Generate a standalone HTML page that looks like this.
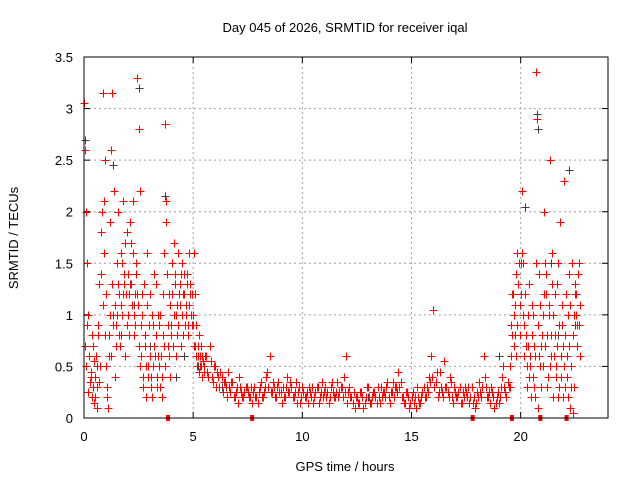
<!DOCTYPE html>
<html><head><meta charset="utf-8"><style>
html,body{margin:0;padding:0;background:#fff;}
svg{display:block;font-family:"Liberation Sans",sans-serif;}
</style></head><body>
<svg id="chart" width="640" height="480">
<text x="345" y="32" font-size="13" text-anchor="middle">Day 045 of 2026, SRMTID for receiver iqal</text>
<text x="345" y="471" font-size="13" text-anchor="middle">GPS time / hours</text>
<text transform="translate(18,238) rotate(-90)" font-size="13" text-anchor="middle">SRMTID / TECUs</text>
<g id="grid"></g><g id="ticks"></g><g id="gray"></g><g id="red"></g>
<rect x="84" y="57" width="524" height="361" fill="none" stroke="#000"/>
</svg>
<script>
const xTicks=[0,5,10,15,20];
const yTicks=[0,0.5,1,1.5,2,2.5,3,3.5];
const yTickLabels=["0","0.5","1","1.5","2","2.5","3","3.5"];
// red series, sampled in segments: [start hour, step hours] + values
const segA=[0,0.05];
const redA=[3.05,2.6,2.0,1.5,1.0,0.6,0.4,0.8,0.3,0.55,
0.2,0.6,0.1,0.9,1.3,0.5,1.8,3.15,2.1,2.5,
1.2,0.3,0.1,0.6,1.9,2.6,3.15,1.0,0.4,0.9,
1.5,2.0,1.2,0.7,1.6,1.0,2.1,1.3,1.7,0.9,
1.4,1.2,1.9,1.3,1.1,1.6,0.8,1.2,1.5,3.3,
2.8,2.2,0.6,1.0,0.3,1.3,0.8,0.2,1.6,0.5,
1.2,0.4,0.2,0.9,1.4,0.6,0.8,0.3,1.0,0.5,
1.0,0.4,1.2,0.7,2.85,2.1,1.4,0.9,0.6,1.1,
0.9,1.5,1.7,1.3,1.0,0.8,1.6,1.2,1.1,1.4,
1.0,0.8,1.2,1.1,1.4,0.9,1.6,1.3,1.0,1.2,
0.9,1.6,0.7,0.9,0.6,0.8,0.5,0.7,0.6,0.55];
const segA2=[0.025,0.05];
const redA2=[0.7,0.5,0.9,0.25,0.6,0.35,0.45,0.2,0.7,0.15,
0.4,0.3,0.8,0.35,0.5,1.4,2.0,1.1,1.6,0.8,
0.5,0.2,0.8,1.0,0.6,1.3,0.9,2.2,1.1,0.7,
1.0,1.3,0.8,1.1,1.5,1.2,1.4,0.6,1.2,1.8,
1.0,0.8,1.3,1.7,2.1,1.0,0.9,1.4,1.2,1.1,
0.7,0.5,0.9,1.2,0.4,0.7,0.5,1.1,0.4,0.9,
0.6,0.3,1.0,0.5,0.7,1.3,0.4,0.6,0.9,0.3,
0.6,0.2,0.8,1.6,0.5,1.9,0.7,1.2,0.4,0.8,
1.2,0.7,1.0,1.4,0.6,1.1,0.9,1.3,0.7,1.5,
1.2,1.4,0.9,1.0,1.3,0.8,1.1,1.2,0.9,1.0,
0.7,1.2,0.6,0.5,0.7,0.45,0.6,0.5,0.4,0.45];
const segC=[5.5,0.1];
const redC=[0.5,0.6,0.4,0.55,0.35,0.5,0.45,0.3,0.4,0.35,
0.3,0.45,0.25,0.35,0.2,0.3,0.4,0.25,0.2,0.3,
0.25,0.2,0.15,0.3,0.2,0.25,0.35,0.2,0.3,0.45,
0.6,0.25,0.3,0.2,0.35,0.25,0.3,0.2,0.4,0.25,
0.3,0.2,0.35,0.25,0.15,0.3,0.2,0.25,0.3,0.2,
0.15,0.25,0.3,0.2,0.35,0.25,0.2,0.15,0.3,0.25,
0.2,0.35,0.25,0.3,0.4,0.6,0.25,0.2,0.15,0.1,
0.2,0.15,0.25,0.1,0.2,0.3,0.15,0.2,0.25,0.15,
0.2,0.3,0.25,0.2,0.35,0.15,0.25,0.2,0.3,0.45,
0.35,0.2,0.15,0.25,0.1,0.2,0.15,0.1,0.2,0.15,
0.25,0.2,0.3,0.4,0.6,1.05,0.35,0.2,0.45,0.25,
0.55,0.3,0.2,0.35,0.15,0.25,0.2,0.3,0.15,0.2,
0.25,0.3,0.2,0.15,0.1,0.25,0.35,0.2,0.6,0.3,
0.2,0.15,0.25,0.1,0.2,0.15,0.3,0.5,0.25,0.35];
const segC2=[5.55,0.1];
const redC2=[0.6,0.45,0.7,0.4,0.5,0.3,0.4,0.45,0.25,0.35,
0.2,0.3,0.35,0.2,0.25,0.15,0.3,0.2,0.25,0.3,
0.2,0.3,0.25,0.2,0.15,0.3,0.2,0.25,0.4,0.3,
0.25,0.35,0.2,0.3,0.25,0.15,0.2,0.3,0.25,0.35,
0.2,0.25,0.15,0.3,0.2,0.25,0.2,0.15,0.25,0.3,
0.2,0.3,0.15,0.25,0.2,0.3,0.25,0.2,0.35,0.2,
0.25,0.2,0.3,0.2,0.25,0.15,0.3,0.2,0.25,0.2,
0.15,0.25,0.2,0.15,0.3,0.2,0.15,0.25,0.2,0.3,
0.15,0.2,0.25,0.3,0.2,0.25,0.35,0.3,0.25,0.3,
0.2,0.15,0.25,0.2,0.15,0.25,0.2,0.3,0.15,0.2,
0.3,0.2,0.25,0.35,0.4,0.3,0.45,0.25,0.3,0.2,
0.3,0.25,0.4,0.2,0.3,0.2,0.25,0.15,0.25,0.3,
0.2,0.15,0.3,0.2,0.15,0.2,0.25,0.3,0.4,0.2,
0.25,0.3,0.2,0.15,0.25,0.2,0.4,0.3,0.2,0.3];
const segD=[19.5,0.05];
const redD=[0.3,0.6,0.8,1.2,1.0,0.8,1.4,1.6,1.3,1.1,
1.5,2.2,1.5,0.9,1.2,0.7,0.5,1.0,0.4,0.6,
0.8,1.0,0.3,0.6,3.35,2.9,0.1,1.4,0.5,0.7,
1.0,2.0,1.5,1.2,0.8,0.4,1.1,2.5,0.6,1.6,
1.0,0.8,0.5,1.3,0.2,0.9,1.9,0.4,1.1,0.7,
2.3,0.3,0.6,1.0,1.4,0.1,0.3,1.5,0.05,1.0,
1.3,1.2,0.9,1.5,0.6];
const segD2=[19.525,0.05];
const redD2=[0.5,0.9,1.2,0.7,1.1,0.6,0.9,1.3,1.5,0.8,
1.2,1.6,1.0,0.6,0.8,0.3,0.7,1.3,0.5,0.2,
1.1,0.4,0.7,0.2,1.5,0.9,0.6,1.1,0.3,0.8,
0.5,1.2,0.7,1.4,0.3,1.0,0.5,0.8,1.3,0.2,
0.6,1.2,0.4,0.7,1.5,0.3,0.6,0.9,0.2,0.5,
0.8,1.2,0.4,0.2,0.7,1.1,0.5,0.8,0.3,1.2,
1.0,0.7,1.4,0.9,1.1];
const grayH=[0.05,0.6,1.35,1.7,2.3,2.5,3.0,3.7,4.2,4.6,5.2,6.3,9.0,13.0,19.0,20.2,20.75,20.8,21.4,21.7,22.2,22.5];
const grayV=[2.7,0.5,2.45,0.8,1.1,3.2,0.7,2.15,0.4,0.6,0.5,0.3,0.25,0.2,0.6,2.05,2.95,2.8,1.5,0.8,2.4,0.9];
const flagH=[3.85,7.7,17.8,19.6,20.9,22.1];

const svg=document.getElementById('chart');
const NS='http://www.w3.org/2000/svg';
const X0=84,X1=608,Y0=418,Y1=57,XMAX=24,YMAX=3.5;
const sx=h=>X0+h/XMAX*(X1-X0);
const sy=v=>Y0-v/YMAX*(Y0-Y1);
function mk(tag,attrs,parent){const e=document.createElementNS(NS,tag);for(const k in attrs)e.setAttribute(k,attrs[k]);parent.appendChild(e);return e;}
const grid=document.getElementById('grid'),ticks=document.getElementById('ticks');
xTicks.forEach(t=>{const x=sx(t);
 if(t>0){const g=mk('line',{x1:x,x2:x,y1:Y1,y2:Y0,stroke:'#a0a0a0','stroke-dasharray':'2,3'},grid);
 
 }
 const l=mk('text',{x:x,y:Y0+23,'font-size':13,'text-anchor':'middle'},ticks);l.textContent=t;
 
 
 mk('line',{x1:x,x2:x,y1:Y0,y2:Y0-6,stroke:'#000'},ticks);mk('line',{x1:x,x2:x,y1:Y1,y2:Y1+6,stroke:'#000'},ticks);});
yTicks.forEach((t,i)=>{const y=sy(t);
 if(t>0&&t<YMAX){const g=mk('line',{x1:X0,x2:X1,y1:y,y2:y,stroke:'#a0a0a0','stroke-dasharray':'2,3'},grid);
 
 }
 const l=mk('text',{x:X0-11,y:y+5,'font-size':13,'text-anchor':'end'},ticks);l.textContent=yTickLabels[i];
 
 
 mk('line',{x1:X0,x2:X0+6,y1:y,y2:y,stroke:'#000'},ticks);mk('line',{x1:X1,x2:X1-6,y1:y,y2:y,stroke:'#000'},ticks);});
function plusPath(hs,vs){let d='';hs.forEach((h,i)=>{const x=Math.round(sx(h))+0.5,y=Math.round(sy(vs[i]))+0.5;d+=`M${x-4},${y}h8M${x},${y-4}v8`;});return d;}
function plus(hs,vs,color,g,name){
 const p=mk('path',{d:plusPath(hs,vs),stroke:color,'stroke-width':1,fill:'none'},g);
 
 }
function seg(s,vals,g,name){const hs=vals.map((v,i)=>s[0]+i*s[1]);plus(hs,vals,'#ff0000',g,name);}
const gg=document.getElementById('gray'),rg=document.getElementById('red');
plus(grayH,grayV,'#404040',gg,'gray-series-points');
seg(segA,redA,rg,'red-points-early');
seg(segA2,redA2,rg,'red-points-early-2');
seg(segC,redC,rg,'red-points-mid');
seg(segC2,redC2,rg,'red-points-mid-2');
seg(segD,redD,rg,'red-points-late');
seg(segD2,redD2,rg,'red-points-late-2');
flagH.forEach(h=>{const r=mk('rect',{x:sx(h)-2,y:Y0-3,width:4,height:6,fill:'#ff0000'},rg);
 
 });
</script>
</body></html>
